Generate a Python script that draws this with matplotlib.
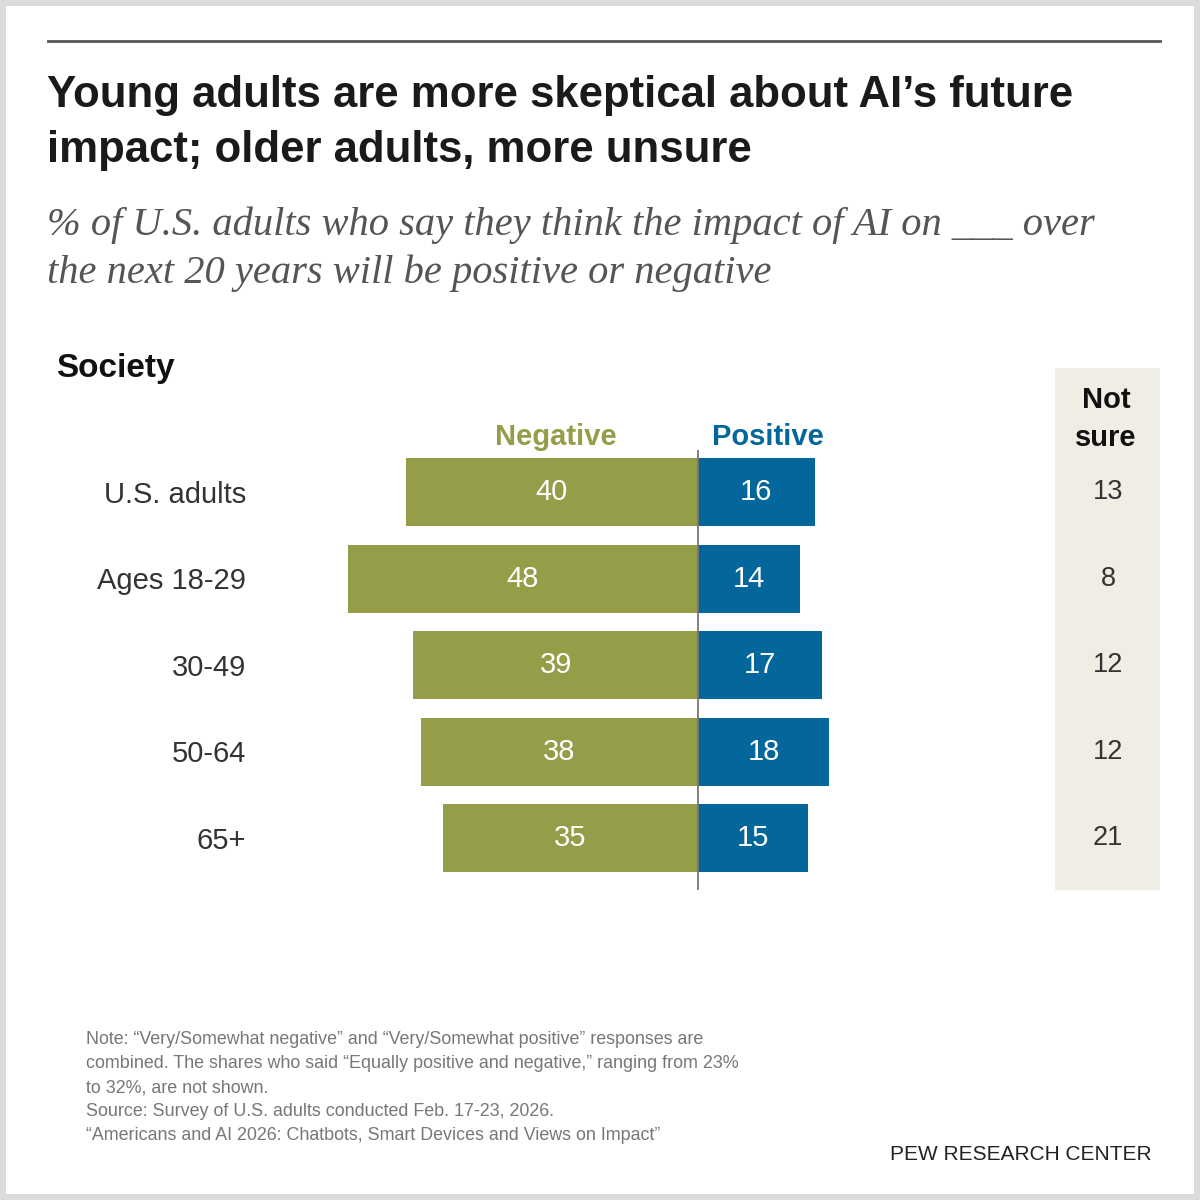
import matplotlib.pyplot as plt
import matplotlib.transforms as mtransforms
from matplotlib.patches import Rectangle

# data
groups = ['U.S. adults', 'Ages 18-29', '30-49', '50-64', '65+']
negative = [40, 48, 39, 38, 35]
positive = [16, 14, 17, 18, 15]
not_sure = [13, 8, 12, 12, 21]

title = "Young adults are more skeptical about AI\u2019s future\nimpact; older adults, more unsure"
subtitle_1 = "% of U.S. adults who say they think the impact of AI on ___ over"
subtitle_2 = "the next 20 years will be positive or negative"
note_lines = [
    "Note: \u201cVery/Somewhat negative\u201d and \u201cVery/Somewhat positive\u201d responses are",
    "combined. The shares who said \u201cEqually positive and negative,\u201d ranging from 23%",
    "to 32%, are not shown.",
    "Source: Survey of U.S. adults conducted Feb. 17-23, 2026.",
    "\u201cAmericans and AI 2026: Chatbots, Smart Devices and Views on Impact\u201d",
]

NEG_COL = '#959d48'
POS_COL = '#03679b'
W = H = 1200

sans = ['Liberation Sans', 'DejaVu Sans']
serif = ['Liberation Serif', 'DejaVu Serif']
plt.rcParams['font.family'] = sans

fig = plt.figure(figsize=(12, 12), dpi=100, facecolor='#dcdcdc')


def fx(px):
    return px / W


def fy(py):
    return 1 - py / H


# white card inside grey frame
fig.patches.append(Rectangle((fx(6), fy(1194)), fx(1188), 1188 / H,
                             transform=fig.transFigure, facecolor='white',
                             edgecolor='none', zorder=-2))
# not sure column background
fig.patches.append(Rectangle((fx(1055), fy(890)), fx(105), 522 / H,
                             transform=fig.transFigure, facecolor='#efede4',
                             edgecolor='none', zorder=-1))
# top rule
fig.add_artist(plt.Line2D([fx(48), fx(1160)], [fy(41), fy(41)],
                          transform=fig.transFigure, color='#555555', lw=2))

fig.text(fx(47), fy(123), title, fontsize=31.5, fontweight='bold', color='#1a1a1a',
         va='center', ha='left', linespacing=1.42)

fig.text(fx(47), fy(225), subtitle_1, fontsize=29.2, style='italic', color='#555555',
         va='center', ha='left', family=serif)
fig.text(fx(47), fy(273), subtitle_2, fontsize=29.2, style='italic', color='#555555',
         va='center', ha='left', family=serif)

fig.text(fx(56), fy(368), 'Society', fontsize=24, fontweight='bold', color='#111111',
         va='center', ha='left')

fig.text(fx(1106), fy(419), 'Not\nsure', fontsize=21, fontweight='bold', color='#111111',
         va='center', ha='center', linespacing=1.5)

# bar axes: zero at x=698 px, 7.3 px per point; rows at 492 + 86.6*i
scale = 7.3
ax_l, ax_r, ax_t, ax_b = 330, 850, 450, 890
ax = fig.add_axes([fx(ax_l), fy(ax_b), fx(ax_r - ax_l), (ax_b - ax_t) / H])
ax.set_xlim((ax_l - 698) / scale, (ax_r - 698) / scale)
ax.set_ylim((ax_b - 492) / 86.6, (ax_t - 492) / 86.6)
ax.axis('off')
ax.patch.set_alpha(0)
ax.set_zorder(1)

rows = list(range(len(groups)))
neg_vals = [-v for v in negative]
ax.barh(rows, neg_vals, height=0.785, color=NEG_COL)
ax.barh(rows, positive, height=0.785, color=POS_COL)
ax.axvline(0, color='#777777', lw=1.3)

for i in rows:
    ax.text(neg_vals[i] / 2, i, str(negative[i]), color='white', fontsize=21,
            ha='center', va='center')
    ax.text(positive[i] / 2, i, str(positive[i]), color='white', fontsize=21,
            ha='center', va='center')

ax.text(-19.5, -0.64, 'Negative', color=NEG_COL, fontsize=21, fontweight='bold',
        ha='center', va='center', clip_on=False)
ax.text(9.6, -0.64, 'Positive', color=POS_COL, fontsize=21, fontweight='bold',
        ha='center', va='center', clip_on=False)

# category labels and "not sure" values share the row scale
row_tr = mtransforms.blended_transform_factory(fig.transFigure, ax.transData)
for i in rows:
    ax.text(fx(246), i + 0.03, groups[i], transform=row_tr, ha='right', va='center',
            fontsize=21, color='#333333', clip_on=False)
    ax.text(fx(1108), i, str(not_sure[i]), transform=row_tr, ha='center',
            va='center', fontsize=19.5, color='#333333', clip_on=False)

for k, line in enumerate(note_lines):
    fig.text(fx(86), fy(1040 + 24 * k), line, fontsize=12.9, color='#777777',
             ha='left', va='center')

fig.text(fx(1152), fy(1155), 'PEW RESEARCH CENTER', fontsize=15, color='#222222',
         ha='right', va='center')

fig.savefig('out.png', dpi=100, facecolor=fig.get_facecolor())
